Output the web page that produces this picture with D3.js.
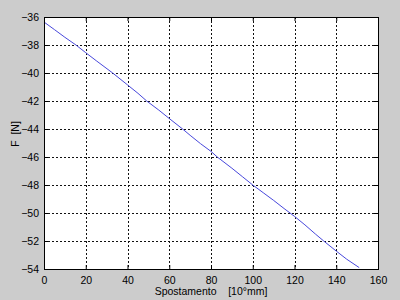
<!DOCTYPE html>
<html><head><meta charset="utf-8">
<script src="https://cdn.jsdelivr.net/npm/d3@7"></script>
<style>body{margin:0;background:#cccccc;}svg{display:block;}</style>
</head><body>
<script>
const xTicks = [0,20,40,60,80,100,120,140,160];
const yTicks = [-36,-38,-40,-42,-44,-46,-48,-50,-52,-54];
const dispX = [0,5,10,15.3,20,25,32.9,40,45,49.2,55,60,66.4,70,75,80,83,90,95,100,105,110,115,120,125,130,134,140,145,151];
const forceY = [-36.36,-36.9,-37.45,-38,-38.55,-39.12,-40,-40.85,-41.45,-42,-42.65,-43.25,-44,-44.45,-45.05,-45.6,-46,-46.8,-47.4,-48,-48.55,-49.1,-49.68,-50.24,-50.85,-51.5,-52,-52.72,-53.3,-53.9];
const xLabel = "Spostamento    [10°mm]";
const yLabel = "F  [N]";

const W=400,H=300;
const m={l:44,r:22,t:17,b:31};
const svg=d3.select("body").append("svg").attr("width",W).attr("height",H);
svg.append("rect").attr("width",W).attr("height",H).attr("fill","#cccccc");
const x=d3.scaleLinear().domain([0,160]).range([m.l,W-m.r]);
const y=d3.scaleLinear().domain([-54,-36]).range([H-m.b,m.t]);
svg.append("rect").attr("x",x(0)).attr("y",y(-36)).attr("width",x(160)-x(0)).attr("height",y(-54)-y(-36)).attr("fill","#fff");
const font="Liberation Sans, Arial, sans-serif";
const g=svg.append("g");
g.selectAll(".vx").data(xTicks.slice(1,-1)).join("line")
 .attr("x1",d=>Math.round(x(d))+0.5).attr("x2",d=>Math.round(x(d))+0.5).attr("y1",y(-36)).attr("y2",y(-54))
 .attr("stroke","#111").attr("stroke-width",1).attr("stroke-dasharray","2,2");
g.selectAll(".hy").data(yTicks.slice(1,-1)).join("line")
 .attr("y1",d=>Math.round(y(d))+0.5).attr("y2",d=>Math.round(y(d))+0.5).attr("x1",x(0)).attr("x2",x(160))
 .attr("stroke","#111").attr("stroke-width",1).attr("stroke-dasharray","2,2");
svg.append("path").datum(dispX.map((d,i)=>[d,forceY[i]]))
 .attr("d",d3.line().x(d=>x(d[0])).y(d=>y(d[1])))
 .attr("fill","none").attr("stroke","#4848dc").attr("stroke-width",1);
const ax=svg.append("g").attr("transform",`translate(0,${y(-54)})`)
 .call(d3.axisBottom(x).tickValues(xTicks).tickSizeInner(-4).tickSizeOuter(0).tickPadding(8));
const ay=svg.append("g").attr("transform",`translate(${x(0)},0)`)
 .call(d3.axisLeft(y).tickValues(yTicks).tickSizeInner(-4).tickSizeOuter(0).tickPadding(5));
const at=svg.append("g").attr("transform",`translate(0,${y(-36)})`)
 .call(d3.axisTop(x).tickValues(xTicks).tickSizeInner(-4).tickSizeOuter(0).tickFormat(""));
const ar=svg.append("g").attr("transform",`translate(${x(160)},0)`)
 .call(d3.axisRight(y).tickValues(yTicks).tickSizeInner(-4).tickSizeOuter(0).tickFormat(""));
[ax,ay,at,ar].forEach(a=>{a.select(".domain").remove();a.selectAll("text").attr("font-family",font).attr("font-size",10.5).attr("fill","#000");a.selectAll("line").attr("stroke","#000");});
svg.append("rect").attr("x",x(0)+0.5).attr("y",y(-36)+0.5).attr("width",x(160)-x(0)).attr("height",y(-54)-y(-36))
 .attr("fill","none").attr("stroke","#000").attr("stroke-width",1);
svg.append("text").attr("x",(x(0)+x(160))/2).attr("y",295).attr("text-anchor","middle")
 .attr("font-family",font).attr("font-size",10.5).style("white-space","pre").text(xLabel);
svg.append("text").attr("transform","translate(19,134) rotate(-90)").attr("text-anchor","middle")
 .attr("font-family",font).attr("font-size",10.5).style("white-space","pre").text(yLabel);
</script>
</body></html>
